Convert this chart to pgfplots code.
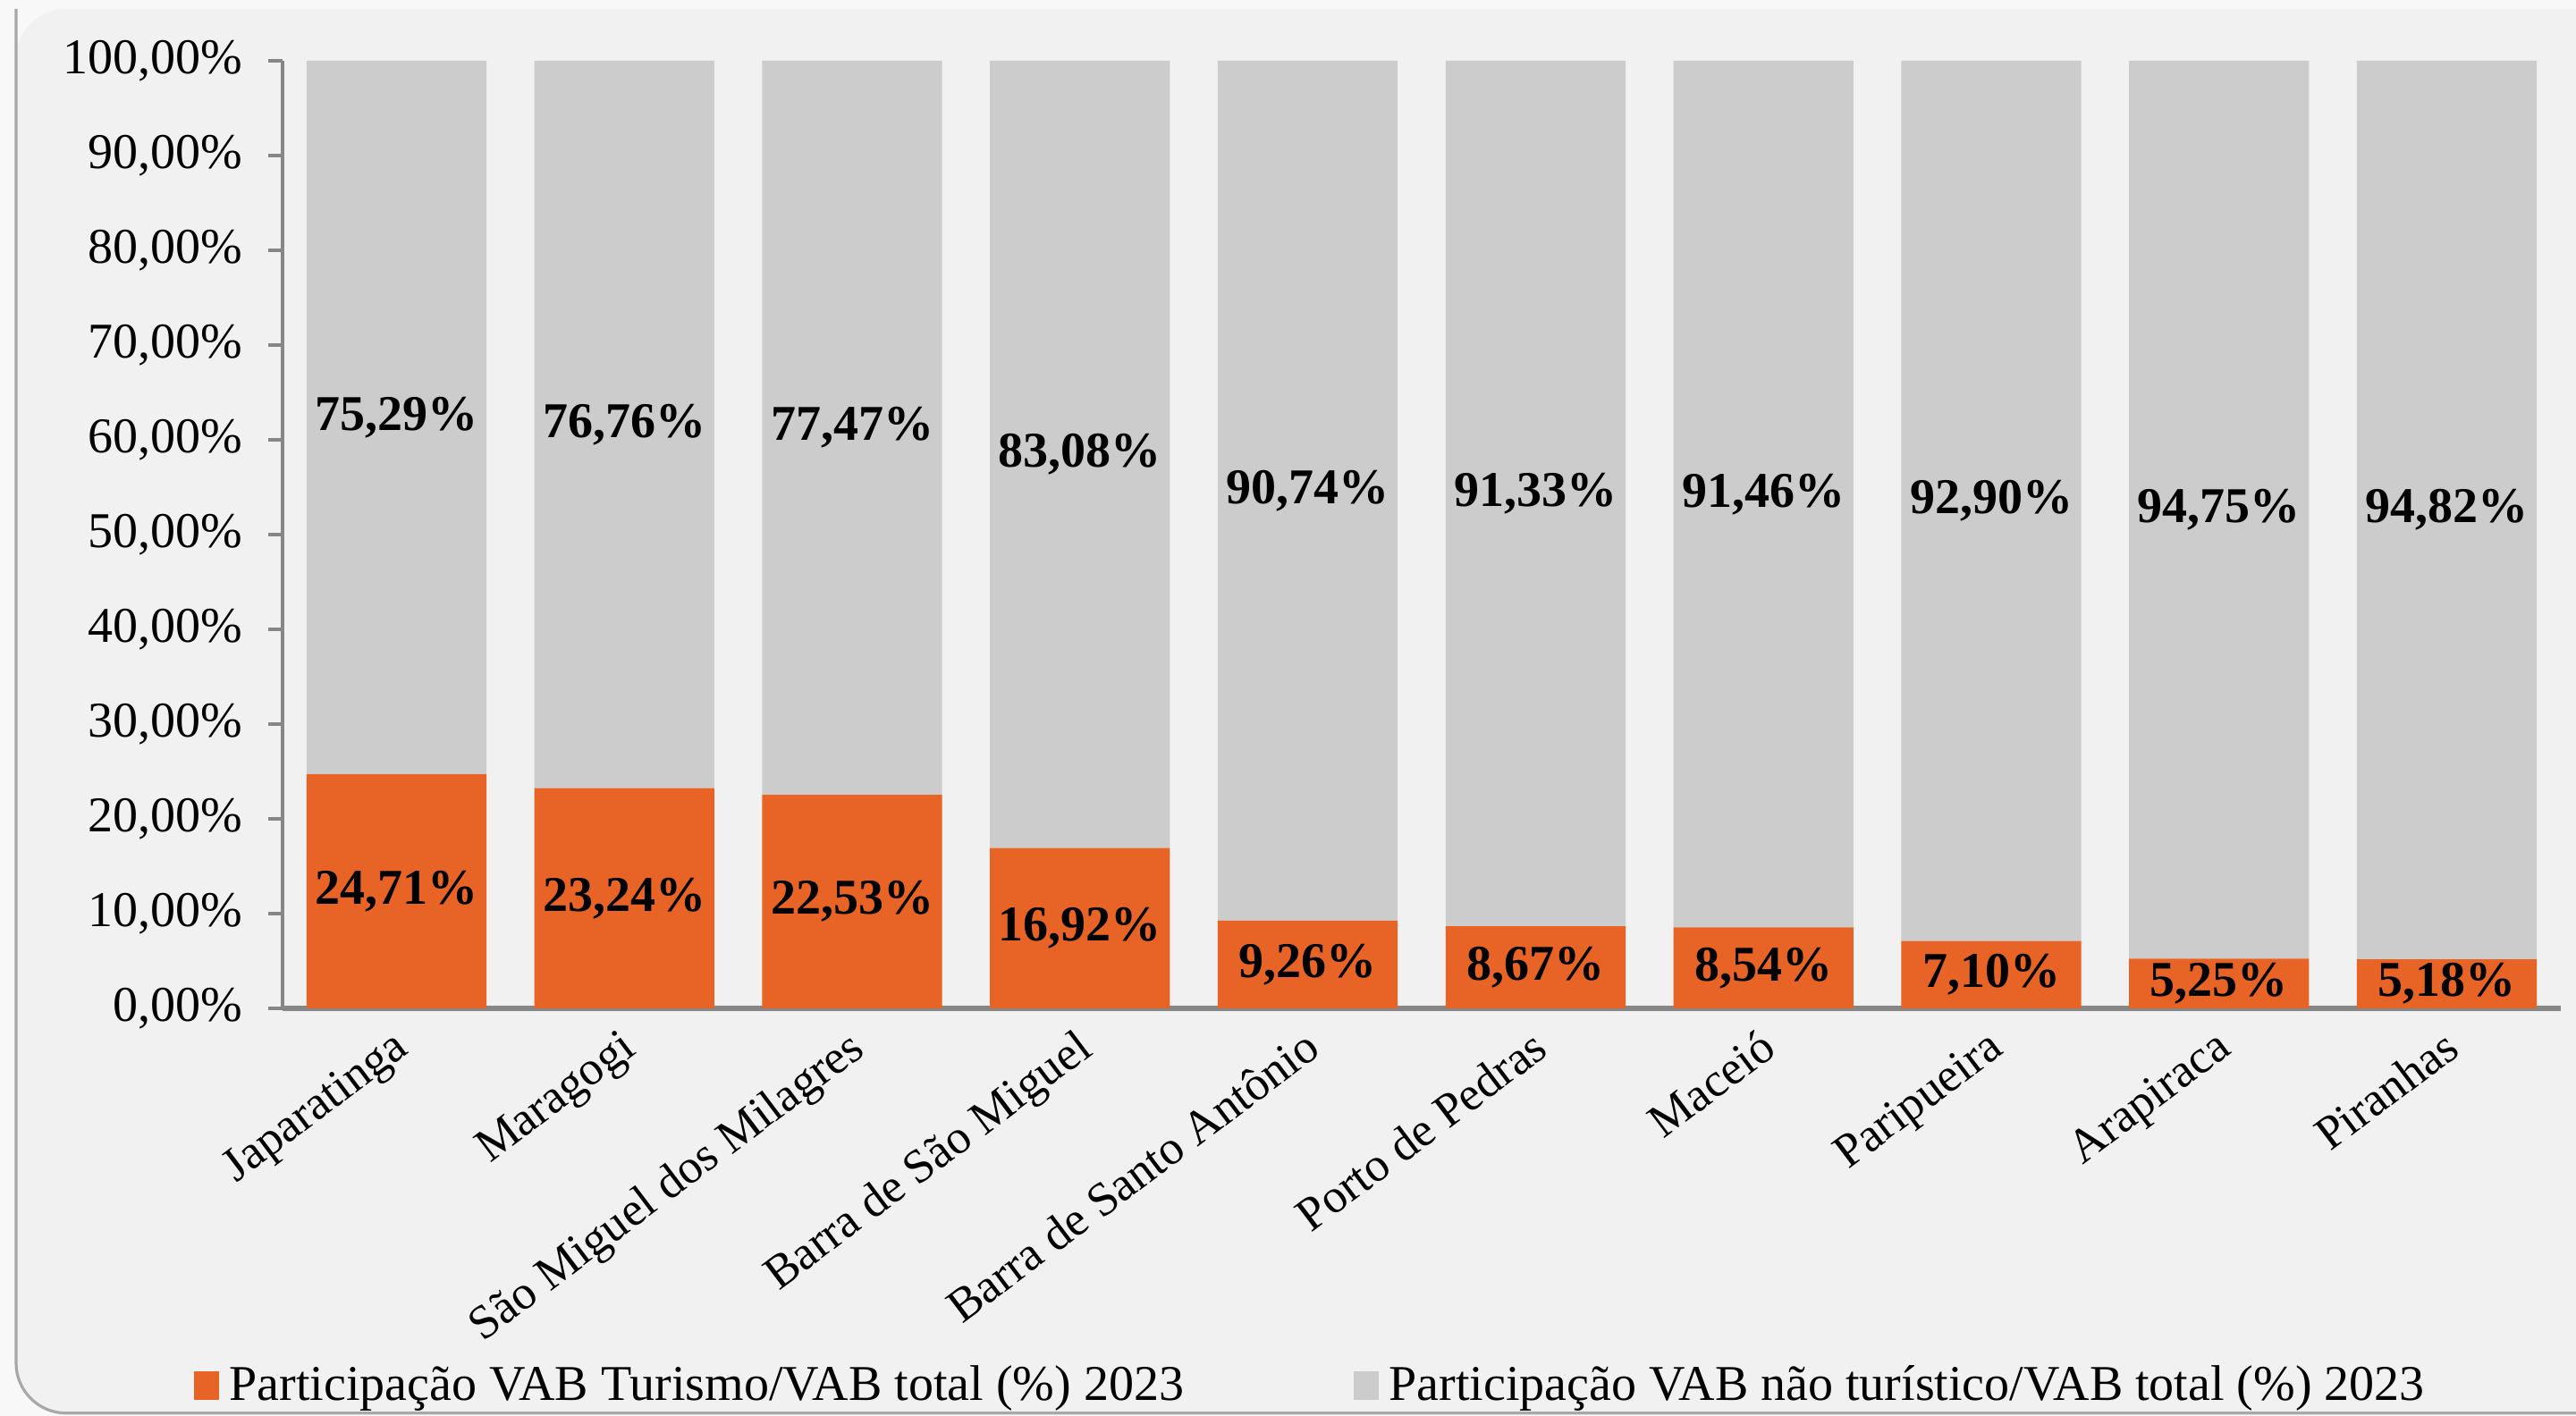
\documentclass[border=0pt]{standalone}
\usepackage{pgfplots}
\pgfplotsset{compat=1.18}
\usepackage{pgfplotstable}
\usepackage{fontspec}
\setmainfont{Liberation Serif}
\definecolor{orangebar}{HTML}{E86426}
\definecolor{graybar}{HTML}{CCCCCC}
\definecolor{bgc}{HTML}{F1F1F1}
\definecolor{outc}{HTML}{F8F8F8}
\definecolor{axgray}{HTML}{868686}
\definecolor{framegray}{HTML}{A8A8A8}
\newcommand{\fs}{\fontsize{14}{16.8}\selectfont}
\newcommand{\fsx}{\fontsize{13.3}{16}\selectfont}

\pgfplotstableread{
x tur nao
0 24.71 75.29
1 23.24 76.76
2 22.53 77.47
3 16.92 83.08
4 9.26 90.74
5 8.67 91.33
6 8.54 91.46
7 7.10 92.90
8 5.25 94.75
9 5.18 94.82
}\data

\pgfplotstableread{
x y lab
0 12.355 24,71\%
1 11.62 23,24\%
2 11.265 22,53\%
3 8.46 16,92\%
4 4.63 9,26\%
5 4.335 8,67\%
6 4.27 8,54\%
7 3.55 7,10\%
8 2.625 5,25\%
9 2.59 5,18\%
0 62.355 75,29\%
1 61.62 76,76\%
2 61.265 77,47\%
3 58.46 83,08\%
4 54.63 90,74\%
5 54.335 91,33\%
6 54.27 91,46\%
7 53.55 92,90\%
8 52.625 94,75\%
9 52.59 94,82\%
}\labs

\begin{document}
\begin{tikzpicture}
\useasboundingbox (0,0) rectangle (720.25pt,396pt);
\fill[outc] (0,0) rectangle (720.25pt,396pt);
\fill[bgc, rounded corners=14pt] (4.5pt,0.8pt) rectangle (745pt,393.5pt);
\draw[framegray, line width=0.8pt, rounded corners=14pt] (4.5pt,393.5pt) -- (4.5pt,0.8pt) -- (745pt,0.8pt);
\begin{axis}[
  at={(79pt,114pt)}, anchor=south west,
  scale only axis, width=637pt, height=265pt,
  xmin=-0.5, xmax=9.5, ymin=0, ymax=100,
  enlargelimits=false,
  ybar stacked, bar width=0.79,
  axis x line*=bottom, axis y line*=left,
  x axis line style={-, draw=axgray, line width=1.3pt},
  y axis line style={-, draw=axgray, line width=0.8pt},
  xtick={0,...,9},
  xticklabels={Japaratinga, Maragogi, São Miguel dos Milagres, Barra de São Miguel, Barra de Santo Antônio, Porto de Pedras, Maceió, Paripueira, Arapiraca, Piranhas},
  x tick style={draw=none},
  ytick={0,10,...,100},
  yticklabels={{0,00\%},{10,00\%},{20,00\%},{30,00\%},{40,00\%},{50,00\%},{60,00\%},{70,00\%},{80,00\%},{90,00\%},{100,00\%}},
  y tick style={draw=axgray, line width=0.8pt},
  tick align=outside, major tick length=4pt,
  tick label style={font=\fs, text=black},
  xticklabel style={font=\fsx, anchor=north east, inner sep=0pt, xshift=-1.5pt, yshift=-1pt, rotate=37},
  yticklabel style={anchor=east, inner sep=0pt, xshift=-7pt},
  legend columns=2,
  legend image code/.code={\fill[#1, draw=none] (0pt,-4pt) rectangle (7pt,4pt); \path (8.4pt,0pt);},
  legend style={at={(0,0)}, anchor=west, xshift=-25pt, yshift=-105.5pt, draw=none, fill=none, inner sep=0pt, font=\fs, /tikz/every even column/.append style={column sep=46pt}, nodes={inner sep=1.5pt}},
]
\addplot[fill=orangebar, draw=none] table[x=x, y=tur] {\data};
\addlegendentry{Participação VAB Turismo/VAB total (\%) 2023}
\addplot[fill=graybar, draw=none] table[x=x, y=nao] {\data};
\addlegendentry{Participação VAB não turístico/VAB total (\%) 2023}
\end{axis}
\begin{axis}[
  at={(79pt,114pt)}, anchor=south west,
  scale only axis, width=637pt, height=265pt,
  xmin=-0.5, xmax=9.5, ymin=0, ymax=100,
  enlargelimits=false, hide axis, clip=false,
]
\addplot[draw=none, mark=none, nodes near coords, nodes near coords align={center}, point meta=explicit symbolic,
  every node near coord/.append style={font=\fs\bfseries, text=black, inner sep=0pt}]
  table[x=x, y=y, meta=lab] {\labs};
\end{axis}
\end{tikzpicture}
\end{document}
